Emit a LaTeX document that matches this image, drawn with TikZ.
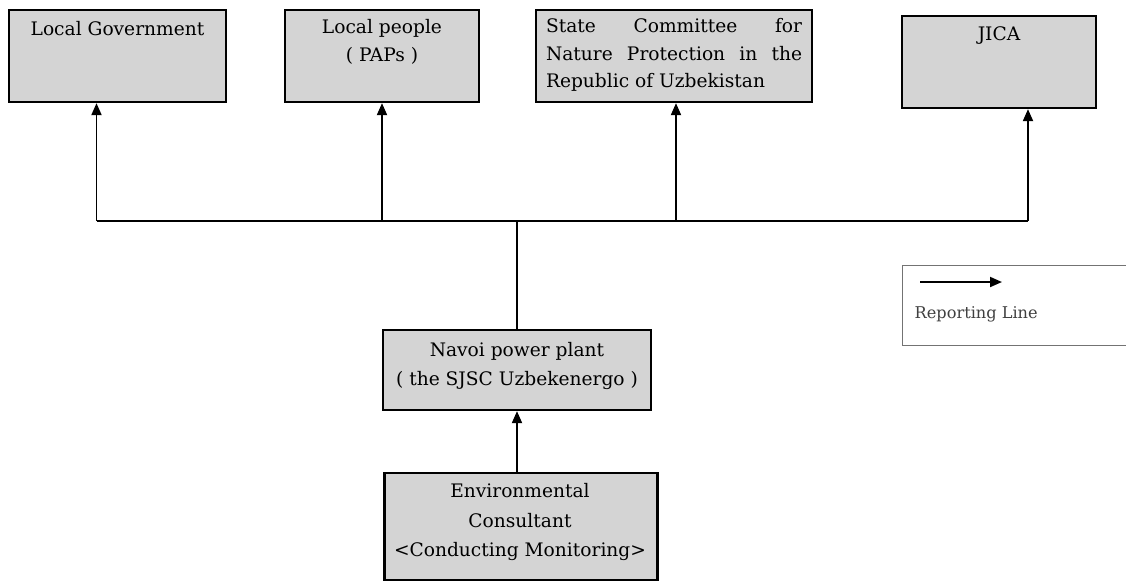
\documentclass[tikz,border=0pt]{standalone}
\usepackage{fontspec}
\setmainfont{DejaVu Serif}
\usetikzlibrary{arrows.meta}

\begin{document}
\begin{tikzpicture}[x=0.02cm,y=-0.02cm,thick,font=\fontsize{10.6}{13}\selectfont,>={Triangle[length=2.4mm,width=2mm]}]
    \tikzstyle{party}=[draw,line width=1.3pt,fill=black!17,inner sep=0pt]
    \tikzstyle{caption}=[inner sep=0pt,align=center]
    \tikzstyle{report}=[->,line width=1.1pt]
    \useasboundingbox (0,0) rectangle (1126,583);
    % top row
    \node[party,minimum width=217*0.02cm,minimum height=92*0.02cm] (lg) at (117.5,56) {};
    \node[caption] (lgt) at (117.5,29) {Local Government};
    \node[party,minimum width=194*0.02cm,minimum height=92*0.02cm] (lp) at (382,56) {};
    \node[caption] (lpt) at (382,42) {Local people\\[3pt]( PAPs )};
    \node[party,minimum width=276*0.02cm,minimum height=92*0.02cm] (sc) at (674,56) {};
    \node[caption,align=justify,text width=256*0.02cm] (sct) at (674,55)
      {State \hfill Committee \hfill for\\[2.5pt]Nature\hfill Protection\hfill in\hfill the\\[2.5pt]Republic of Uzbekistan};
    \node[party,minimum width=194*0.02cm,minimum height=92*0.02cm] (ji) at (999,62) {};
    \node[caption] (jit) at (999,36) {JICA};
    % middle and bottom
    \node[party,minimum width=268*0.02cm,minimum height=80*0.02cm] (np) at (517,370) {};
    \node[caption] (npt) at (517,366) {Navoi power plant\\[4pt]( the SJSC Uzbekenergo )};
    \node[party,minimum width=273*0.02cm,minimum height=107*0.02cm] (ec) at (521,526.5) {};
    \node[caption] (ect) at (520,522) {Environmental\\[4pt]Consultant\\[4pt]<Conducting Monitoring>};
    % reporting lines
    \coordinate (bus) at (np.north |- 0,221);
    \coordinate (lgin) at ([xshift=-21*0.02cm]lg.south);% arrows meet left of centre
    \coordinate (jiin) at ([xshift=29*0.02cm]ji.south);
    \coordinate (scin) at ([xshift=2*0.02cm]sc.south);
    \draw[line width=1.1pt] (np.north) -- (bus);
    \draw[line width=1.1pt] (lgin |- bus) -- (jiin |- bus);
    \draw[report] (lgin |- bus) -- (lgin);
    \draw[report] (lp.south |- bus) -- (lp.south);
    \draw[report] (scin |- bus) -- (scin);
    \draw[report] (jiin |- bus) -- (jiin);
    \draw[report] (ec.north -| np.south) -- (np.south);
    % legend
    \node[draw=black!55,thin,minimum width=240*0.02cm,minimum height=80*0.02cm,anchor=north west] (key) at (902,265) {};
    \coordinate (keya) at (920,282);
    \coordinate (keyb) at (1002,282);
    \draw[report] (keya) -- (keyb);
    \node[caption,anchor=west,font=\fontsize{9.2}{11}\selectfont,text=black!75] (keyt) at (914,314) {Reporting Line};
\end{tikzpicture}
\end{document}
